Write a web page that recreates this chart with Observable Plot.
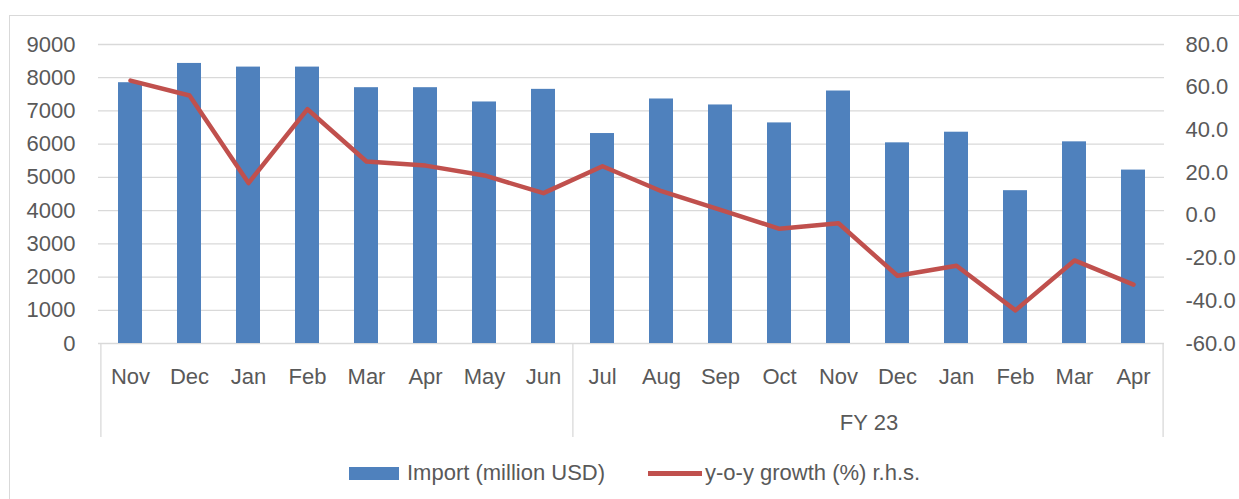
<!DOCTYPE html>
<html><head><meta charset="utf-8">
<script src="https://cdn.jsdelivr.net/npm/d3@7"></script>
<script src="https://cdn.jsdelivr.net/npm/@observablehq/plot@0.6"></script>
<style>
body{margin:0;background:#fff;overflow:hidden;width:1239px;height:499px;position:relative;font-family:"Liberation Sans",Arial,sans-serif;}
#frame{position:absolute;left:9px;top:15px;width:1300px;height:600px;border:1px solid #d9d9d9;box-sizing:border-box;}
#chart{position:absolute;left:0;top:0;}
#legend{position:absolute;top:462px;left:349px;height:22px;display:flex;align-items:center;font-size:22px;color:#595959;white-space:nowrap;}
.sw{display:inline-block;}
</style></head><body>
<div id="frame"></div><div id="chart"></div><div id="legend"></div>
<script>
const months = ["Nov","Dec","Jan","Feb","Mar","Apr","May","Jun","Jul","Aug","Sep","Oct","Nov","Dec","Jan","Feb","Mar","Apr"];
const imports = [7850,8430,8320,8320,7700,7700,7270,7650,6320,7360,7180,6640,7600,6040,6360,4600,6070,5220];
const growth = [63.1,56.1,15.1,49.7,25.2,23.3,18.7,10.4,23.0,11.3,2.6,-6.3,-3.7,-28.3,-23.6,-44.5,-21.1,-32.4];
const groupNames = ["", "FY 23"];
const groupSizes = [8, 10];
const leftTicks = [0,1000,2000,3000,4000,5000,6000,7000,8000,9000];
const rightTicks = [-60,-40,-20,0,20,40,60,80];
const seriesNames = ["Import (million USD)", "y-o-y growth (%) r.h.s."];

const blue = "#4F81BD", red = "#C0504D", grid = "#d9d9d9", txt = "#595959";
const W = 1239, H = 450, ML = 98, MR = 75, MT = 44, MB = 107;
const step = (W - ML - MR) / months.length;
const yMax = 9000, gMin = -60, gMax = 80;
const toY = g => (g - gMin) / (gMax - gMin) * yMax;
const fromY = v => v / yMax * (gMax - gMin) + gMin;

const keys = months.map((_, i) => String(i));
const data = months.map((m, i) => ({key: keys[i], month: m, imp: imports[i], g: growth[i]}));

// groups
const groups = [];
let s = 0;
groupNames.forEach((n, gi) => { groups.push({name: n, start: s, end: s + groupSizes[gi] - 1}); s += groupSizes[gi]; });

const frameH = H - MT - MB;
const catDepth = 94;
const ruleOpts = {stroke: grid, strokeWidth: 1.3, insetTop: frameH - catDepth, dy: catDepth};

const marks = [
  Plot.gridY(leftTicks, {stroke: grid, strokeOpacity: 1, strokeWidth: 1.3}),
  Plot.barY(data, {x: "key", y: "imp", fill: blue}),
  Plot.line(data, {x: "key", y: d => toY(d.g), stroke: red, strokeWidth: 4.5, strokeLinejoin: "round", strokeLinecap: "round"}),
  Plot.axisY(leftTicks, {anchor: "left", tickSize: 0, tickPadding: 23, label: null, tickFormat: v => String(v)}),
  Plot.axisY(rightTicks.map(toY), {anchor: "right", tickSize: 0, tickPadding: 21, label: null, tickFormat: v => fromY(v).toFixed(1)}),
  Plot.axisX({tickSize: 0, tickPadding: 24.5, label: null, tickFormat: k => months[+k]}),
  Plot.ruleX(groups.map(g => keys[g.start]), {...ruleOpts, dx: -step / 2}),
  Plot.ruleX([keys[keys.length - 1]], {...ruleOpts, dx: step / 2})
];
groups.filter(g => g.name).forEach(g => {
  marks.push(Plot.text([g.name], {x: () => keys[g.start], text: d => d, frameAnchor: "bottom", dy: 79, dx: (g.end - g.start) / 2 * step, lineAnchor: "middle", fill: txt}));
});

const chart = Plot.plot({
  width: W, height: H,
  marginLeft: ML, marginRight: MR, marginTop: MT, marginBottom: MB,
  style: {fontFamily: "'Liberation Sans', Arial, sans-serif", fontSize: "22px", color: txt, background: "transparent", overflow: "visible"},
  x: {type: "band", domain: keys, paddingInner: 0.6, paddingOuter: 0.3, axis: null},
  y: {domain: [0, yMax], axis: null},
  marks
});
document.getElementById("chart").appendChild(chart);

const lg = document.getElementById("legend");
lg.innerHTML =
  `<span class="sw" style="width:50px;height:13px;background:${blue}"></span>` +
  `<span style="margin-left:8px">${seriesNames[0]}</span>` +
  `<span class="sw" style="width:54px;height:5px;background:${red};margin-left:43px"></span>` +
  `<span style="margin-left:3px">${seriesNames[1]}</span>`;
</script>
</body></html>
